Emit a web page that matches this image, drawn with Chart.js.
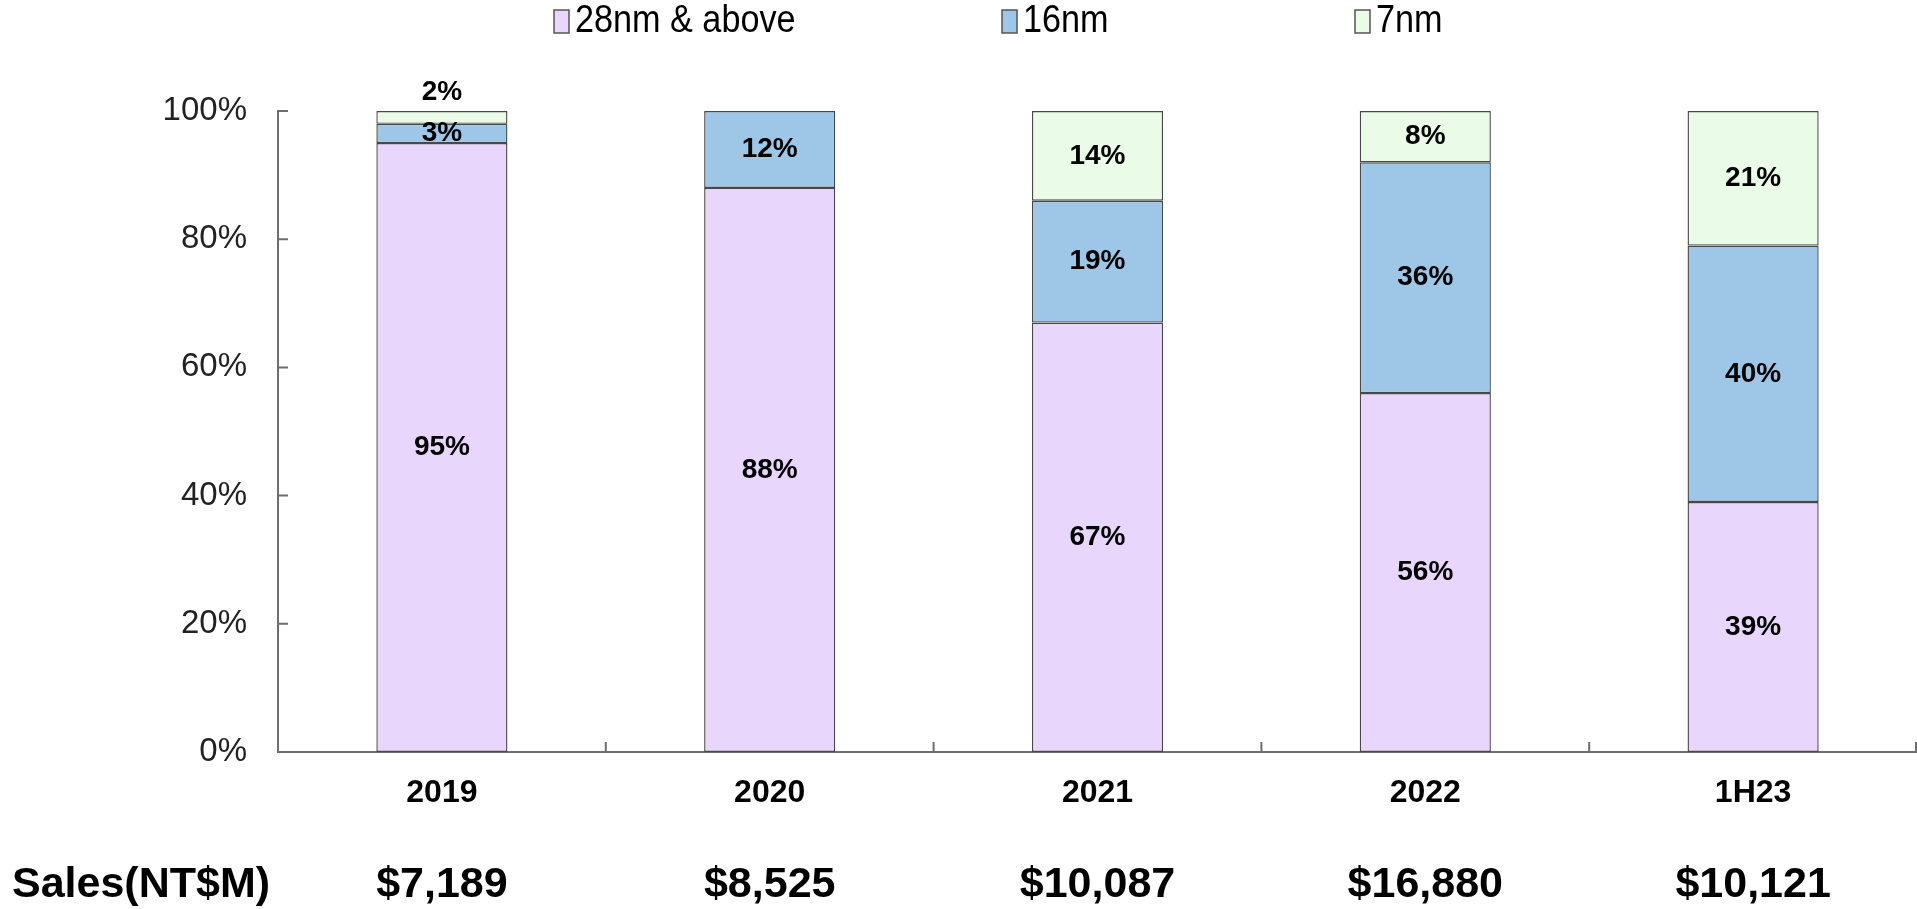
<!DOCTYPE html>
<html>
<head>
<meta charset="utf-8">
<script src="https://cdn.jsdelivr.net/npm/chart.js@4"></script>
<style>
  html, body { margin: 0; padding: 0; background: #fff; }
  #wrap { width: 1917px; height: 909px; position: relative; }
</style>
</head>
<body>
<div id="wrap"><canvas id="chartId"></canvas></div>
<script>
const categories = ["2019", "2020", "2021", "2022", "1H23"];
const nm28 = [95, 88, 67, 56, 39];
const nm16 = [3, 12, 19, 36, 40];
const nm7 = [2, 0, 14, 8, 21];
const sales = ["$7,189", "$8,525", "$10,087", "$16,880", "$10,121"];
const salesTitle = "Sales(NT$M)";
const yTicks = [0, 20, 40, 60, 80, 100];

const axisColor = "#6e6e6e";
const legendX = [554, 1002, 1355];

// labels in the middle of each segment, tiny top segment goes above the bar
const segmentLabels = {
  id: "segmentLabels",
  afterDatasetsDraw(chart) {
    const ctx = chart.ctx;
    const last = chart.data.datasets.length - 1;
    ctx.save();
    ctx.font = "bold 28px 'Liberation Sans', Arial, sans-serif";
    ctx.fillStyle = "#000";
    ctx.textAlign = "center";
    ctx.textBaseline = "middle";
    chart.data.datasets.forEach((ds, i) => {
      chart.getDatasetMeta(i).data.forEach((bar, j) => {
        const v = ds.data[j];
        if (!v) return;
        const h = bar.base - bar.y;
        let y = (bar.y + bar.base) / 2;
        if (i === last && h < 16) y = bar.y - 19;
        ctx.fillText(v + "%", bar.x, y);
      });
    });
    ctx.restore();
  },
};

// inward tick marks, legend and the sales row
const extras = {
  id: "extras",
  afterDraw(chart) {
    const ctx = chart.ctx;
    const xs = chart.scales.x;
    const ys = chart.scales.y;
    const area = chart.chartArea;
    ctx.save();
    ctx.strokeStyle = axisColor;
    ctx.lineWidth = 2;
    ctx.beginPath();
    yTicks.forEach((t) => {
      if (t === 0) return;
      const y = ys.getPixelForValue(t);
      ctx.moveTo(area.left, y);
      ctx.lineTo(area.left + 10, y);
    });
    for (let i = 1; i <= categories.length; i++) {
      const x = (xs.getPixelForValue(i - 1) + xs.getPixelForValue(i)) / 2;
      const xx = i === categories.length ? area.right - 1 : x;
      ctx.moveTo(xx, area.bottom);
      ctx.lineTo(xx, area.bottom - 10);
    }
    ctx.stroke();

    // legend (condensed look by squeezing the text)
    ctx.textBaseline = "middle";
    ctx.textAlign = "left";
    chart.data.datasets.forEach((ds, i) => {
      const x = legendX[i];
      ctx.fillStyle = ds.backgroundColor;
      ctx.fillRect(x, 10, 15, 23);
      ctx.lineWidth = 1.5;
      ctx.strokeStyle = "#555";
      ctx.strokeRect(x, 10, 15, 23);
      ctx.save();
      ctx.translate(x + 21, 22);
      ctx.scale(0.9, 1);
      ctx.font = "38px 'Liberation Sans', Arial, sans-serif";
      ctx.fillStyle = "#000";
      ctx.fillText(ds.label, 0, 0);
      ctx.restore();
    });

    // sales row
    ctx.font = "bold 43px 'Liberation Sans', Arial, sans-serif";
    ctx.fillStyle = "#000";
    ctx.textAlign = "left";
    ctx.fillText(salesTitle, 12, 885);
    ctx.textAlign = "center";
    sales.forEach((s, i) => {
      ctx.fillText(s, xs.getPixelForValue(i), 885);
    });
    ctx.restore();
  },
};

const ctx = document.getElementById("chartId").getContext("2d");
new Chart(ctx, {
  type: "bar",
  data: {
    labels: categories,
    datasets: [
      { label: "28nm & above", data: nm28, backgroundColor: "#e9d6fd" },
      { label: "16nm", data: nm16, backgroundColor: "#9dc6e7" },
      { label: "7nm", data: nm7, backgroundColor: "#eafbe8" },
    ].map((d) => ({
      ...d,
      borderColor: "#484848",
      borderWidth: 1.4,
      borderSkipped: false,
      barPercentage: 0.4,
      categoryPercentage: 1,
    })),
  },
  options: {
    responsive: true,
    maintainAspectRatio: false,
    animation: false,
    layout: { padding: { top: 111, right: 0, bottom: 0, left: 0 } },
    plugins: {
      legend: { display: false },
      tooltip: { enabled: false },
    },
    scales: {
      x: {
        stacked: true,
        grid: { display: false, drawTicks: false },
        border: { display: true, color: axisColor, width: 2 },
        ticks: {
          color: "#000",
          padding: 22,
          font: { family: "'Liberation Sans', Arial, sans-serif", size: 32, weight: "bold" },
        },
        afterFit(scale) { scale.height = 157; },
      },
      y: {
        stacked: true,
        min: 0,
        max: 100,
        grid: { display: false, drawTicks: false },
        border: { display: true, color: axisColor, width: 2 },
        afterBuildTicks(scale) { scale.ticks = yTicks.map((v) => ({ value: v })); },
        ticks: {
          color: "#222",
          padding: 31,
          font: { family: "'Liberation Sans', Arial, sans-serif", size: 33 },
          callback: (v) => v + "%",
        },
        afterFit(scale) { scale.width = 278; },
      },
    },
  },
  plugins: [segmentLabels, extras],
});
</script>
</body>
</html>
